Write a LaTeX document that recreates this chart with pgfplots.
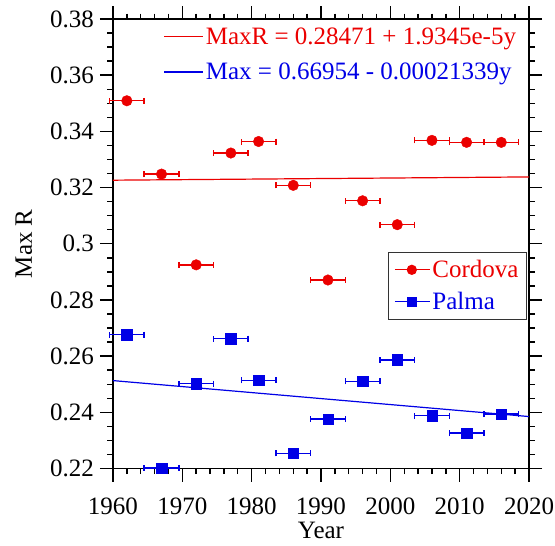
\documentclass[border=0pt]{standalone}
\usepackage{fontspec}
\setmainfont{Liberation Serif}
\usepackage{pgfplots}
\pgfplotsset{compat=1.18}

\definecolor{cred}{RGB}{235,0,0}
\definecolor{cblue}{RGB}{0,0,230}

% year, value, half-width of the year bin
\pgfplotstableread{
x y ex
1962 0.3509 2.5
1967 0.3248 2.5
1972 0.2925 2.5
1977 0.3323 2.5
1981 0.3364 2.5
1986 0.3208 2.5
1991 0.2871 2.5
1996 0.3153 2.5
2001 0.3068 2.5
2006 0.3368 2.5
2011 0.3361 2.5
2016 0.3361 2.5
}\cordova
\pgfplotstableread{
x y ex
1962 0.2677 2.5
1967 0.2202 2.5
1972 0.2502 2.5
1977 0.2662 2.5
1981 0.2514 2.5
1986 0.2254 2.5
1991 0.2376 2.5
1996 0.2510 2.5
2001 0.2587 2.5
2006 0.2388 2.5
2011 0.2326 2.5
2016 0.2394 2.5
}\palma

\newcommand\bigfont{\fontsize{25}{29}\selectfont}

\pgfplotsset{
  base/.style={
    scale only axis,
    width=416pt, height=449.5pt,
    xmin=1960, xmax=2020, ymin=0.22, ymax=0.38,
    xtick={1960,1970,...,2020},
    ytick={0.22,0.24,...,0.381},
    minor x tick num=4, minor y tick num=3,
    tick align=outside,
    major tick length=13pt, minor tick length=5.5pt,
    axis line style={line width=1.4pt},
    every tick/.style={black, line width=1.4pt},
    /pgf/number format/fixed,
    /pgf/number format/precision=2,
    /pgf/number format/1000 sep={},
    /pgf/number format/assume math mode=true,
  },
}

\begin{document}
\begin{tikzpicture}
\begin{axis}[base,
  font=\bigfont,
  xlabel={Year}, ylabel={Max R},
  xticklabel style={anchor=north, inner sep=0pt, yshift=-16.5pt},
  yticklabel style={anchor=east, inner sep=0pt, xshift=-6pt},
  every axis x label/.style={at={(rel axis cs:0.5,-0.155)}, anchor=base, inner sep=0pt},
  every axis y label/.style={at={(rel axis cs:-0.1947,0.5)}, rotate=90, anchor=base, inner sep=0pt},
  legend style={draw=none, fill=none, at={(rel axis cs:0.9736,0.985)}, anchor=north east,
    row sep=13pt, font=\bigfont, inner sep=0pt, outer sep=0pt},
  legend cell align=left,
  legend image code/.code={\draw[#1] (0pt,0pt) -- (39pt,0pt);},
]
\addplot[cred, line width=1.2pt] coordinates {(1960,0.32263) (2020,0.32379)};
\addlegendentry{\textcolor{cred}{MaxR = 0.28471 + 1.9345e-5y}}
\addplot[cblue, line width=1.2pt] coordinates {(1960,0.25130) (2020,0.23850)};
\addlegendentry{\textcolor{cblue}{Max = 0.66954 - 0.00021339y}}
\end{axis}

\begin{axis}[base, hide axis,
  clip=false,
  legend style={draw=black!80, line width=0.8pt, fill=white, at={(rel axis cs:0.995,0.4817)}, anchor=north east,
    row sep=9pt, font=\bigfont, inner sep=6pt},
  legend cell align=left,
  legend image code/.code={\draw[mark repeat=2, mark phase=2, #1] plot coordinates {(0pt,0pt) (17pt,0pt) (35pt,0pt)};},
]
\addplot[cred, only marks, mark=*, mark size=5.3pt, mark options={line width=0.4pt}, forget plot,
  error bars/.cd, x dir=both, x explicit, error mark=|,
  error bar style={line width=1.4pt},
  error mark options={line width=1.4pt, mark size=3pt}]
  table[x=x, y=y, x error=ex] {\cordova};
\addplot[cblue, only marks, mark=square*, mark size=5.2pt, mark options={line width=0.4pt}, forget plot,
  error bars/.cd, x dir=both, x explicit, error mark=|,
  error bar style={line width=1.4pt},
  error mark options={line width=1.4pt, mark size=3pt}]
  table[x=x, y=y, x error=ex] {\palma};
\addlegendimage{cred, line width=1.2pt, mark=*, mark size=4.5pt}
\addlegendentry{\textcolor{cred}{Cordova}}
\addlegendimage{cblue, line width=1.2pt, mark=square*, mark size=4.5pt}
\addlegendentry{\textcolor{cblue}{Palma}}
\coordinate (bbsw) at (rel axis cs:-0.2716,-0.1702);
\coordinate (bbne) at (rel axis cs:1.0625,1.0423);
\end{axis}
\pgfresetboundingbox
\path (bbsw) rectangle (bbne);
\end{tikzpicture}
\end{document}
